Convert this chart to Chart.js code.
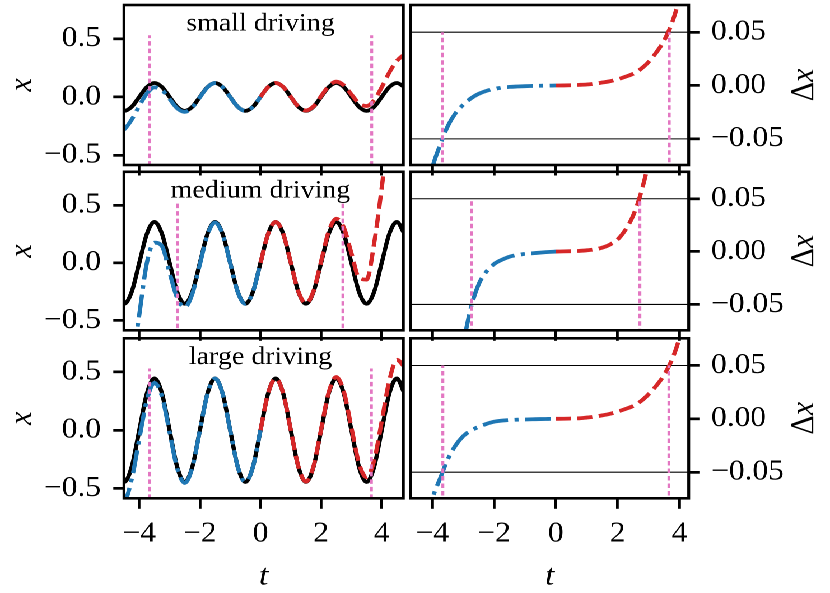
<!DOCTYPE html>
<html>
<head>
<meta charset="utf-8">
<script src="https://cdn.jsdelivr.net/npm/chart.js@4.4.1/dist/chart.umd.min.js"></script>
<style>
  html, body { margin: 0; padding: 0; background: #fff; overflow: hidden; }
  /* the reference figure is a little wider than tall, so lay out at 741px and stretch */
  #figure { position: absolute; left: 0; top: 0; width: 741px; height: 593px;
            transform: scaleX(1.1201); transform-origin: 0 0; }
  #figure canvas { position: absolute; }
</style>
</head>
<body>
<div id="figure"></div>
<script>
// time grid shared by all curves
const tGrid = [-4.75, -4.5, -4.25, -4, -3.75, -3.5, -3.25, -3, -2.75, -2.5, -2.25, -2, -1.75, -1.5, -1.25, -1,
  -0.75, -0.5, -0.25, 0, 0.25, 0.5, 0.75, 1, 1.25, 1.5, 1.75, 2, 2.25, 2.5, 2.75, 3, 3.25, 3.5, 3.75, 4,
  4.25, 4.5, 4.75];

const tTicks = [-4, -2, 0, 2, 4];
const xTicks = [-0.5, 0, 0.5];
const dxTicks = [-0.05, 0, 0.05];

const rowTitles = ["small driving", "medium driving", "large driving"];

// true trajectory (black)
const trueSmall = [-0.085, -0.12, -0.085, 0, 0.085, 0.12, 0.085, 0, -0.085, -0.12, -0.085, 0, 0.085, 0.12, 0.085, 0,
  -0.085, -0.12, -0.085, 0, 0.085, 0.12, 0.085, 0, -0.085, -0.12, -0.085, 0, 0.085, 0.12, 0.085, 0,
  -0.085, -0.12, -0.085, 0, 0.085, 0.12, 0.085];
const trueMedium = [-0.251, -0.355, -0.251, 0, 0.251, 0.355, 0.251, 0, -0.251, -0.355, -0.251, 0, 0.251, 0.355, 0.251, 0,
  -0.251, -0.355, -0.251, 0, 0.251, 0.355, 0.251, 0, -0.251, -0.355, -0.251, 0, 0.251, 0.355, 0.251, 0,
  -0.251, -0.355, -0.251, 0, 0.251, 0.355, 0.251];
const trueLarge = [-0.315, -0.445, -0.315, 0, 0.315, 0.445, 0.315, 0, -0.315, -0.445, -0.315, 0, 0.315, 0.445, 0.315, 0,
  -0.315, -0.445, -0.315, 0, 0.315, 0.445, 0.315, 0, -0.315, -0.445, -0.315, 0, 0.315, 0.445, 0.315, 0,
  -0.315, -0.445, -0.315, 0, 0.315, 0.445, 0.315];

// model trajectory (blue before t = 0, red after)
const predSmall = [-0.305, -0.28, -0.195, -0.077, 0.029, 0.082, 0.059, -0.018, -0.097, -0.128, -0.09, -0.003,
  0.083, 0.119, 0.084, -0.001, -0.085, -0.12, -0.085, 0, 0.085, 0.12, 0.086, 0.001, -0.083, -0.117, -0.081,
  0.006, 0.093, 0.131, 0.1, 0.022, -0.054, -0.078, -0.027, 0.083, 0.21, 0.31, 0.365];
const predMedium = [-1.45, -1.255, -0.9, -0.45, 0.0, 0.175, 0.145, -0.085, -0.304, -0.385, -0.269, -0.012,
  0.243, 0.35, 0.248, -0.002, -0.253, -0.356, -0.251, 0, 0.251, 0.355, 0.252, 0.001, -0.249, -0.351, -0.244,
  0.012, 0.272, 0.383, 0.306, 0.085, -0.13, -0.145, 0.169, 0.65, 1.2, 1.65, 2.0];
const predLarge = [-0.555, -0.605, -0.42, -0.075, 0.259, 0.407, 0.29, -0.016, -0.326, -0.453, -0.32, -0.003,
  0.313, 0.444, 0.314, -0.001, -0.315, -0.445, -0.315, 0, 0.315, 0.445, 0.316, 0.001, -0.313, -0.442, -0.31,
  0.007, 0.324, 0.457, 0.332, 0.023, -0.284, -0.404, -0.26, 0.076, 0.425, 0.605, 0.545];

// difference model - truth
const dxSmall = [-0.22, -0.16, -0.11, -0.077, -0.056, -0.038, -0.026, -0.018, -0.012, -0.0078, -0.005, -0.0032,
  -0.002, -0.0013, -0.0009, -0.0006, -0.0004, -0.0002, -0.0001, 0, 0.0001, 0.0003, 0.0006, 0.001, 0.0017,
  0.0028, 0.004, 0.0058, 0.0082, 0.011, 0.0155, 0.022, 0.031, 0.042, 0.058, 0.083, 0.125, 0.19, 0.28];
const dxMedium = [-1.2, -0.9, -0.65, -0.45, -0.28, -0.18, -0.12, -0.087, -0.053, -0.031, -0.019, -0.0118,
  -0.0078, -0.0048, -0.0033, -0.0022, -0.0016, -0.001, -0.0004, 0, 0.0002, 0.0004, 0.0006, 0.0012, 0.002,
  0.0037, 0.0066, 0.0115, 0.0205, 0.034, 0.055, 0.085, 0.13, 0.21, 0.42, 0.65, 0.95, 1.3, 1.7];
const dxLarge = [-0.24, -0.16, -0.105, -0.075, -0.056, -0.038, -0.025, -0.0162, -0.011, -0.0075, -0.0048, -0.0027,
  -0.0017, -0.0011, -0.0008, -0.0006, -0.0004, -0.0002, -0.0001, 0, 0.0001, 0.0003, 0.0005, 0.0012, 0.002,
  0.0032, 0.0047, 0.0068, 0.0092, 0.012, 0.0165, 0.023, 0.031, 0.041, 0.055, 0.076, 0.11, 0.16, 0.23];

// times where |dx| reaches the limit (pink markers)
const switchT = [[-3.67, 3.67], [-2.73, 2.72], [-3.66, 3.66]];
const dxLimit = 0.05;
const switchTopX = 0.53;

const truths = [trueSmall, trueMedium, trueLarge];
const preds = [predSmall, predMedium, predLarge];
const diffs = [dxSmall, dxMedium, dxLarge];

const BLUE = "#1f77b4";
const RED = "#d62728";
const PINK = "#e377c2";
const DASH_DOT = [23, 5.8, 3.6, 5.8];
const DASHED = [13.4, 5.8];

// canvas placement in the unstretched layout
const rows = [
  { top: 2, height: 177, pad: 3, axis: 14 },
  { top: 169, height: 177, pad: 2.8, axis: 15.7 },
  { top: 335, height: 258, pad: 3.3, axis: 94.7 },
];

Chart.defaults.font.family = "'Liberation Serif', serif";
Chart.defaults.font.size = 28;
Chart.defaults.color = "#000";

const split = tGrid.indexOf(0);

function points(ts, ys) {
  return ts.map((t, i) => ({ x: t, y: ys[i] }));
}
const past = (ys) => points(tGrid.slice(0, split + 1), ys.slice(0, split + 1));
const future = (ys) => points(tGrid.slice(split), ys.slice(split));

function signed(v, digits) {
  const s = Math.abs(v).toFixed(digits);
  return v < 0 ? "\u2212" + s : s;
}

function curve(data, color, dash, order, width) {
  return {
    data, borderColor: color, borderWidth: width || 3.8, borderDash: dash,
    pointRadius: 0, fill: false, cubicInterpolationMode: "monotone", clip: 0, order,
  };
}

function vline(t, top) {
  return {
    data: [{ x: t, y: -10 }, { x: t, y: top }], borderColor: PINK, borderWidth: 2.6,
    borderDash: [4.5, 3], pointRadius: 0, fill: false, clip: 0, order: 0,
  };
}

function hline(y) {
  return {
    data: [{ x: -10, y }, { x: 10, y }], borderColor: "#000", borderWidth: 1.1,
    pointRadius: 0, fill: false, clip: 0, order: 3,
  };
}

const panelDecor = {
  id: "panelDecor",
  afterDatasetsDraw(chart, args, opts) {
    const { ctx, chartArea: a } = chart;
    ctx.save();
    ctx.strokeStyle = "#000";
    ctx.lineWidth = 2.6;
    ctx.strokeRect(a.left, a.top, a.right - a.left, a.bottom - a.top);
    if (opts.title) {
      ctx.font = "25px 'Liberation Serif'";
      ctx.fillStyle = "#000";
      ctx.textAlign = "center";
      ctx.textBaseline = "alphabetic";
      ctx.fillText(opts.title, chart.scales.x.getPixelForValue(0), a.top + 25.5);
    }
    if (opts.dxLabel) {
      // matplotlib keeps the right-hand label reading upwards
      ctx.translate(opts.dxLabel, (a.top + a.bottom) / 2);
      ctx.rotate(-Math.PI / 2);
      ctx.fillStyle = "#000";
      ctx.textAlign = "left";
      ctx.textBaseline = "alphabetic";
      ctx.font = "30px 'Liberation Serif'";
      const w1 = ctx.measureText("\u0394").width;
      ctx.font = "italic 30px 'Liberation Serif'";
      const w2 = ctx.measureText("x").width;
      const x0 = -(w1 + w2) / 2;
      ctx.font = "30px 'Liberation Serif'";
      ctx.fillText("\u0394", x0, 0);
      ctx.font = "italic 30px 'Liberation Serif'";
      ctx.fillText("x", x0 + w1, 0);
    }
    ctx.restore();
  },
};

function makePanel(row, side) {
  const L = rows[row];
  const isDx = side === "right";
  const last = row === rows.length - 1;

  const canvas = document.createElement("canvas");
  canvas.width = isDx ? 377 : 363;
  canvas.height = L.height;
  canvas.style.left = (isDx ? 364 : 0) + "px";
  canvas.style.top = L.top + "px";
  document.getElementById("figure").appendChild(canvas);

  let datasets;
  if (isDx) {
    datasets = [
      vline(switchT[row][0], dxLimit), vline(switchT[row][1], dxLimit),
      curve(past(diffs[row]), BLUE, DASH_DOT, 1),
      curve(future(diffs[row]), RED, DASHED, 1),
      hline(dxLimit), hline(-dxLimit),
    ];
  } else {
    datasets = [
      vline(switchT[row][0], switchTopX), vline(switchT[row][1], switchTopX),
      curve(past(preds[row]), BLUE, DASH_DOT, 1),
      curve(future(preds[row]), RED, DASHED, 1),
      curve(points(tGrid, truths[row]), "#000", [], 2, 3.8),
    ];
  }

  const yTicks = isDx ? dxTicks : xTicks;

  return new Chart(canvas, {
    type: "line",
    data: { datasets },
    plugins: [panelDecor],
    options: {
      responsive: false,
      animation: false,
      devicePixelRatio: 2,
      layout: {
        padding: isDx
          ? { left: 2.66, right: 0, top: L.pad, bottom: 0 }
          : { left: 0, right: 2.94, top: L.pad, bottom: 0 },
      },
      plugins: {
        legend: { display: false },
        tooltip: { enabled: false },
        panelDecor: { title: isDx ? null : rowTitles[row], dxLabel: isDx ? 362.2 : null },
      },
      scales: {
        x: {
          type: "linear",
          bounds: "data",
          min: isDx ? -4.7 : -4.505,
          max: isDx ? 4.3 : 4.713,
          afterBuildTicks: (s) => { s.ticks = tTicks.map((v) => ({ value: v })); },
          afterFit: (s) => {
            s.height = L.axis;
            s.paddingLeft = 0;
            s.paddingRight = 0;
          },
          border: { display: false },
          grid: { drawOnChartArea: false, drawTicks: true, tickLength: 10.5, color: "#000", lineWidth: 2.4 },
          ticks: {
            display: last, padding: 8.4, maxRotation: 0, autoSkip: false,
            callback: (v) => signed(v, 0),
          },
          title: {
            display: last, text: "t",
            font: { size: 30, style: "italic", lineHeight: 1 },
            padding: { top: 0, bottom: 1.4 },
          },
        },
        y: {
          type: "linear",
          position: isDx ? "right" : "left",
          bounds: "data",
          min: isDx ? -0.0745 : -0.585,
          max: isDx ? 0.0755 : 0.79,
          afterBuildTicks: (s) => { s.ticks = yTicks.map((v) => ({ value: v })); },
          afterFit: (s) => {
            s.width = isDx ? 126.14 : 110.7;
            s.paddingTop = 0;
            s.paddingBottom = 0;
          },
          border: { display: false },
          grid: { drawOnChartArea: false, drawTicks: true, tickLength: 9.55, color: "#000", lineWidth: 2.7 },
          ticks: {
            padding: isDx ? 10.5 : 11, autoSkip: false,
            callback: (v) => signed(v, isDx ? 2 : 1),
          },
          title: {
            display: !isDx, text: "x",
            font: { size: 30, style: "italic", lineHeight: 1 },
            padding: { top: 4.8, bottom: 0 },
          },
        },
      },
    },
  });
}

for (let r = 0; r < rows.length; r++) {
  makePanel(r, "left");
  makePanel(r, "right");
}
</script>
</body>
</html>
